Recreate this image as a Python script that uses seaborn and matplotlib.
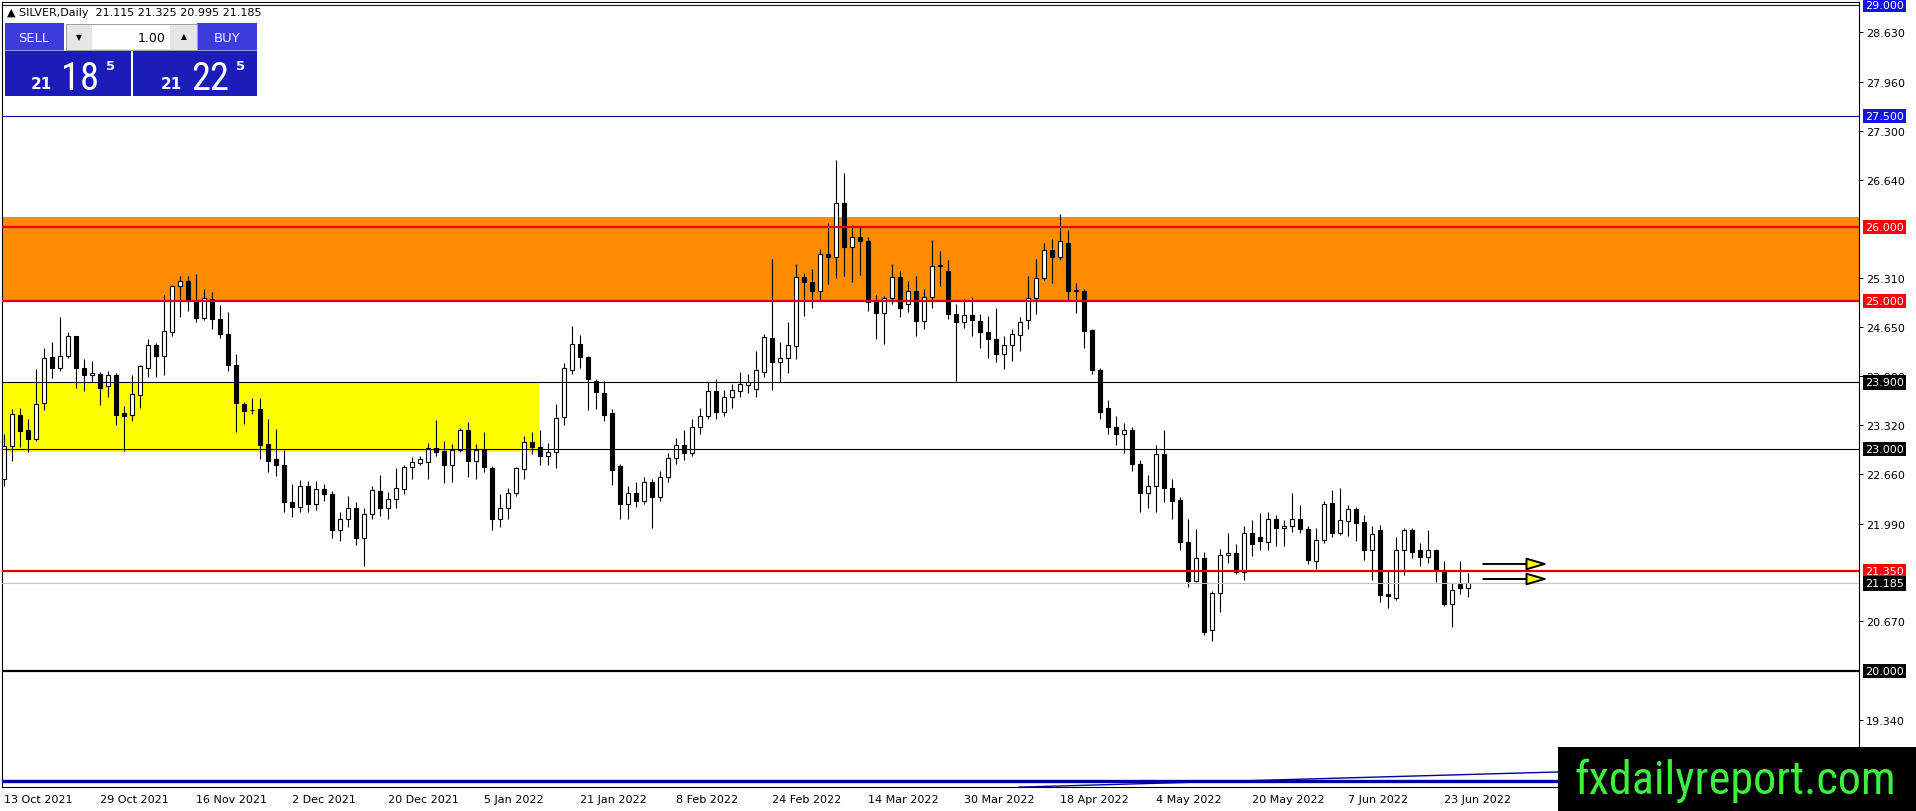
import numpy as np
import pandas as pd
import matplotlib
matplotlib.use('Agg')
import matplotlib.pyplot as plt
from matplotlib.patches import Rectangle
from matplotlib import font_manager
import seaborn as sns

# Daily SILVER candles, 13 Oct 2021 .. 28 Jun 2022
opens = [22.60, 23.04, 23.46, 23.26, 23.14, 23.62, 24.24, 24.10, 24.25, 24.52,
         24.10, 24.00, 24.01, 23.85, 24.00, 23.49, 23.46, 23.73, 24.09, 24.41,
         24.25, 24.58, 25.20, 25.27, 25.00, 24.77, 25.03, 24.75, 24.55, 24.14,
         23.61, 23.53, 23.54, 23.07, 22.86, 22.78, 22.28, 22.22, 22.50, 22.25,
         22.46, 22.39, 21.90, 22.05, 22.20, 21.80, 22.12, 22.43, 22.20, 22.32,
         22.46, 22.75, 22.81, 22.82, 23.01, 22.97, 22.78, 22.98, 23.25, 22.84,
         23.00, 22.74, 22.05, 22.20, 22.41, 22.73, 23.09, 23.03, 22.91, 22.955,
         23.43, 24.07, 24.42, 24.24, 23.92, 23.76, 23.49, 22.77, 22.25, 22.40,
         22.30, 22.55, 22.35, 22.62, 22.88, 23.05, 22.95, 23.30, 23.45, 23.78,
         23.50, 23.70, 23.78, 23.86, 23.81, 24.04, 24.50, 24.17, 24.23, 24.39,
         25.32, 25.25, 25.13, 25.64, 25.60, 26.33, 25.73, 25.86, 25.81, 24.98,
         24.84, 25.04, 25.32, 24.96, 25.14, 24.73, 25.05, 25.47, 25.40, 24.82,
         24.71, 24.81, 24.73, 24.58, 24.49, 24.28, 24.40, 24.54, 24.74, 25.04,
         25.31, 25.69, 25.60, 25.79, 25.14, 25.14, 24.61, 24.07, 23.55, 23.30,
         23.20, 23.25, 22.80, 22.40, 22.50, 22.93, 22.47, 22.31, 21.74, 21.21,
         21.52, 20.55, 21.05, 21.57, 21.59, 21.34, 21.87, 21.81, 21.74, 22.06,
         21.93, 21.955, 22.06, 21.92, 21.49, 21.775, 22.27, 21.87, 22.02, 22.19,
         22.01, 21.64, 21.905, 21.04, 20.98, 21.63, 21.905, 21.635, 21.536, 21.635,
         21.37, 20.905, 21.176, 21.115]
highs = [23.20, 23.54, 23.56, 23.41, 24.08, 24.37, 24.44, 24.78, 24.58, 24.53,
         24.22, 24.19, 24.04, 24.05, 24.03, 23.58, 24.00, 24.14, 24.48, 24.43,
         25.08, 25.22, 25.34, 25.34, 25.37, 25.16, 25.12, 24.94, 24.85, 24.28,
         23.64, 23.69, 23.69, 23.41, 23.27, 22.99, 22.52, 22.58, 22.57, 22.57,
         22.53, 22.43, 22.15, 22.37, 22.28, 22.20, 22.50, 22.65, 22.42, 22.74,
         22.79, 22.89, 22.90, 23.08, 23.39, 23.11, 23.07, 23.29, 23.36, 23.07,
         23.23, 22.77, 22.39, 22.47, 22.75, 23.17, 23.23, 23.26, 23.08, 23.61,
         24.16, 24.66, 24.54, 24.26, 23.94, 23.92, 23.54, 22.80, 22.50, 22.55,
         22.62, 22.60, 22.70, 22.95, 23.15, 23.25, 23.40, 23.55, 23.90, 23.95,
         23.80, 23.88, 24.04, 24.01, 24.33, 24.55, 25.57, 24.45, 24.72, 25.50,
         25.38, 25.43, 25.70, 26.05, 26.90, 26.73, 26.02, 26.00, 25.87, 25.08,
         25.07, 25.50, 25.40, 25.27, 25.34, 25.16, 25.82, 25.68, 25.55, 24.96,
         25.02, 25.05, 24.82, 24.80, 24.90, 24.52, 24.62, 24.78, 25.34, 25.57,
         25.79, 25.84, 26.18, 25.96, 25.24, 25.16, 24.62, 24.10, 23.66, 23.45,
         23.35, 23.30, 22.85, 22.65, 23.05, 23.25, 22.60, 22.35, 22.06, 21.92,
         21.61, 21.08, 21.65, 21.87, 21.72, 21.96, 22.04, 22.14, 22.15, 22.11,
         22.04, 22.405, 22.24, 21.96, 21.93, 22.30, 22.45, 22.47, 22.24, 22.21,
         22.11, 21.96, 21.97, 21.36, 21.81, 21.93, 21.93, 21.725, 21.905, 21.65,
         21.48, 21.19, 21.49, 21.325]
lows = [22.50, 22.84, 23.02, 22.96, 23.11, 23.52, 23.96, 24.06, 24.23, 23.83,
        23.79, 23.90, 23.60, 23.70, 23.33, 22.97, 23.38, 23.56, 23.97, 23.97,
        24.00, 24.53, 24.78, 24.86, 24.71, 24.74, 24.62, 24.50, 24.06, 23.23,
        23.34, 23.47, 22.87, 22.69, 22.64, 22.15, 22.08, 22.15, 22.15, 22.18,
        22.30, 21.80, 21.75, 21.95, 21.70, 21.42, 22.05, 22.10, 22.05, 22.20,
        22.39, 22.60, 22.78, 22.60, 22.91, 22.54, 22.55, 22.96, 22.62, 22.59,
        22.69, 21.90, 21.95, 22.05, 22.37, 22.60, 22.93, 22.78, 22.78, 22.74,
        23.33, 24.01, 24.10, 23.52, 23.54, 23.38, 22.51, 22.05, 22.05, 22.22,
        22.25, 21.93, 22.30, 22.55, 22.80, 22.85, 22.90, 23.20, 23.40, 23.40,
        23.45, 23.55, 23.70, 23.75, 23.70, 23.97, 23.80, 23.90, 24.03, 24.22,
        24.80, 24.91, 25.00, 25.23, 25.31, 25.34, 25.26, 25.35, 24.87, 24.48,
        24.42, 24.96, 24.78, 24.85, 24.53, 24.62, 24.91, 25.20, 24.76, 23.92,
        24.64, 24.52, 24.37, 24.23, 24.17, 24.08, 24.19, 24.32, 24.62, 24.82,
        25.28, 25.24, 25.55, 25.00, 24.84, 24.37, 24.01, 23.40, 23.20, 23.05,
        22.95, 22.70, 22.15, 22.20, 22.15, 22.28, 22.05, 21.64, 21.14, 21.20,
        20.48, 20.40, 20.80, 21.46, 21.31, 21.23, 21.56, 21.63, 21.63, 21.69,
        21.69, 21.88, 21.87, 21.45, 21.38, 21.73, 21.81, 21.84, 21.82, 21.75,
        21.50, 21.23, 20.93, 20.85, 20.96, 21.30, 21.52, 21.42, 21.46, 21.20,
        20.88, 20.60, 21.04, 20.995]
closes = [23.04, 23.47, 23.24, 23.14, 23.61, 24.23, 24.10, 24.25, 24.52, 24.10,
          24.00, 24.02, 23.83, 24.00, 23.46, 23.45, 23.74, 24.12, 24.40, 24.25,
          24.59, 25.20, 25.27, 25.01, 24.77, 25.04, 24.75, 24.55, 24.13, 23.62,
          23.51, 23.52, 23.06, 22.84, 22.78, 22.28, 22.22, 22.50, 22.25, 22.46,
          22.39, 21.90, 22.05, 22.20, 21.80, 22.12, 22.45, 22.20, 22.32, 22.47,
          22.75, 22.82, 22.87, 23.01, 22.96, 22.79, 22.98, 23.26, 22.84, 22.99,
          22.75, 22.05, 22.20, 22.41, 22.74, 23.10, 23.03, 22.91, 22.955, 23.415,
          24.09, 24.42, 24.24, 23.94, 23.77, 23.46, 22.72, 22.25, 22.40, 22.30,
          22.55, 22.35, 22.62, 22.88, 23.05, 22.95, 23.30, 23.45, 23.78, 23.50,
          23.70, 23.80, 23.88, 23.90, 24.07, 24.51, 24.18, 24.23, 24.40, 25.32,
          25.25, 25.13, 25.64, 25.60, 26.33, 25.73, 25.86, 25.81, 24.98, 24.84,
          25.04, 25.32, 24.91, 25.14, 24.73, 25.05, 25.47, 25.48, 24.82, 24.71,
          24.81, 24.74, 24.58, 24.48, 24.28, 24.40, 24.55, 24.71, 25.04, 25.31,
          25.69, 25.60, 25.81, 25.13, 25.145, 24.60, 24.07, 23.50, 23.30, 23.20,
          23.25, 22.80, 22.40, 22.50, 22.93, 22.47, 22.30, 21.74, 21.21, 21.52,
          20.52, 21.06, 21.57, 21.59, 21.34, 21.87, 21.71, 21.75, 22.06, 21.93,
          21.96, 22.06, 21.92, 21.50, 21.775, 22.26, 21.87, 22.04, 22.19, 22.00,
          21.64, 21.85, 21.02, 21.01, 21.63, 21.905, 21.61, 21.536, 21.64, 21.37,
          20.905, 21.095, 21.117, 21.185]

date_labels = ['13 Oct 2021', '29 Oct 2021', '16 Nov 2021', '2 Dec 2021',
               '20 Dec 2021', '5 Jan 2022', '21 Jan 2022', '8 Feb 2022',
               '24 Feb 2022', '14 Mar 2022', '30 Mar 2022', '18 Apr 2022',
               '4 May 2022', '20 May 2022', '7 Jun 2022', '23 Jun 2022']
price_ticks = [28.630, 27.960, 27.300, 26.640, 25.310, 24.650, 23.990,
               23.320, 22.660, 21.990, 20.670, 19.340]

level_values = [29.0, 27.5, 26.0, 25.0, 23.9, 23.0, 21.35, 21.185, 20.0]
level_kinds = ['blue', 'blue', 'red', 'red', 'black', 'black', 'red', 'bid', 'thick']

orange_zone = [24.98, 26.135]
yellow_zone = [22.96, 23.90]
yellow_zone_end = 66.9

arrow_prices = [21.446, 21.243]
arrow_span = [184.9, 193.0]
trend_x = [126.8, 232.0]
trend_y = [18.43, 18.75]
base_line = 18.514

header_text = '\u25b2 SILVER,Daily  21.115 21.325 20.995 21.185'
sell_price = ['21', '18', '5']
buy_price = ['21', '22', '5']
lot_size = '1.00'
watermark = 'fxdailyreport.com'

sns.set_style('white')
plt.rcParams['font.family'] = ['DejaVu Sans']

# pick a narrow face for the big quote digits / watermark if one is installed
installed = {(f.name, f.stretch) for f in font_manager.fontManager.ttflist}
names = {n for n, _ in installed}
narrow_kw = {'family': 'Liberation Sans'}
for cand in ['Liberation Sans Narrow', 'Roboto Condensed', 'Open Sans Condensed']:
    if cand in names:
        narrow_kw = {'family': cand}
        break
else:
    if any(n == 'DejaVu Sans' and str(s) in ('condensed', '87.5', '75')
           for n, s in installed):
        narrow_kw = {'family': 'DejaVu Sans', 'fontstretch': 'condensed'}

W, H = 1916, 812
fig = plt.figure(figsize=(W / 100, H / 100), dpi=100)
fig.patch.set_facecolor('white')
ax = fig.add_axes([2 / W, 24 / H, 1857 / W, 785 / H])
ax.set_facecolor('white')

# background zones
ax.axhspan(orange_zone[0], orange_zone[1], color='#ff8c00', lw=0, zorder=1)
ax.fill_between([-1, yellow_zone_end], yellow_zone[0], yellow_zone[1],
                color='#ffff00', lw=0, zorder=1)

# candles
df = pd.DataFrame({'open': opens, 'high': highs, 'low': lows, 'close': closes})
df['bar'] = np.arange(len(df))
up = df['close'] >= df['open']
ax.vlines(df['bar'], df['low'], df['high'], color='black', lw=0.8, zorder=3)
body = (df['close'] - df['open']).abs().clip(lower=0.012)
bottom = df[['open', 'close']].min(axis=1)
ax.bar(df['bar'], body, bottom=bottom, width=0.62,
       color=np.where(up, 'white', 'black'), edgecolor='black',
       linewidth=0.8, zorder=4)

# horizontal levels
line_style = {'blue': ('#0000b4', 0.8), 'red': ('#e00000', 1.6),
              'black': ('black', 0.8), 'bid': ('#c0c0c0', 0.8),
              'thick': ('black', 1.6)}
box_color = {'blue': '#1414e6', 'red': '#ff0000', 'black': 'black',
             'bid': 'black', 'thick': 'black'}
for val, kind in zip(level_values, level_kinds):
    c, lw = line_style[kind]
    ax.axhline(val, color=c, lw=lw, zorder=5)
    ax.annotate(f'{val:.3f}', xy=(1, val), xycoords=('axes fraction', 'data'),
                xytext=(6, 0), textcoords='offset pixels', ha='left', va='center',
                color='white', fontsize=8, annotation_clip=False, zorder=10,
                bbox=dict(boxstyle='square,pad=0.22', fc=box_color[kind], ec='none'))

# bottom lines
ax.axhline(base_line, color='#0000a0', lw=2.4, zorder=5)
sns.lineplot(x=trend_x, y=trend_y, ax=ax, color='#0000a0', lw=1.0, zorder=5)

# arrows
for p in arrow_prices:
    ax.annotate('', xy=(arrow_span[1], p), xytext=(arrow_span[0], p),
                arrowprops=dict(arrowstyle='-|>,head_length=1.3,head_width=0.38',
                                facecolor='#ffff00', edgecolor='black', lw=1.4,
                                shrinkA=0, shrinkB=0, mutation_scale=10),
                zorder=6)

ax.set_xlim(-0.25, 231.875)
ax.set_ylim(18.432, 29.04)

ax.yaxis.tick_right()
ax.set_yticks(price_ticks)
ax.set_yticklabels([f'{v:.3f}' for v in price_ticks])
ax.set_xticks(range(0, len(closes), 12))
ax.set_xticklabels(date_labels)
plt.setp(ax.get_xticklabels(), ha='left')
ax.tick_params(axis='both', labelsize=8, colors='black', length=3, width=0.7,
               direction='out')
ax.tick_params(axis='y', pad=2)
ax.tick_params(axis='x', pad=2)
ax.set_xlabel('')
ax.set_ylabel('')
for s in ax.spines.values():
    s.set_color('black')
    s.set_linewidth(0.8)
    s.set_visible(True)


# ---- terminal decorations in pixel coordinates ----
def px_rect(x0, y0, x1, y1, fc, ec='none', lw=0, z=20):
    fig.add_artist(Rectangle((x0 / W, 1 - y1 / H), (x1 - x0) / W, (y1 - y0) / H,
                             transform=fig.transFigure, fc=fc, ec=ec, lw=lw, zorder=z))


def px_text(x, y, s, z=21, **kw):
    return fig.text(x / W, 1 - y / H, s, zorder=z, **kw)


renderer = fig.canvas.get_renderer()


def fit_width(t, target):
    w = t.get_window_extent(renderer=renderer).width
    t.set_fontsize(t.get_fontsize() * target / w)


hdr = px_text(7, 13, header_text, fontsize=8, color='black', va='center', ha='left')
fit_width(hdr, 256)

# sell / buy buttons
px_rect(5, 24, 64, 52, '#3c3cdc')
px_rect(197, 24, 257, 52, '#3c3cdc')
px_rect(5, 51, 64, 52, '#9090f0')
px_rect(197, 51, 257, 52, '#9090f0')
px_text(34, 38, 'SELL', fontsize=9.5, color='#eeeeff', ha='center', va='center')
px_text(227, 38, 'BUY', fontsize=9.5, color='#eeeeff', ha='center', va='center')
# lot spin box
px_rect(66, 25, 197, 51, '#e6e6e6', ec='#a0a0a0', lw=0.7)
px_rect(92, 26, 170, 50, 'white')
px_text(79, 38, '\u25bc', fontsize=5.5, color='black', ha='center', va='center')
px_text(184, 37, '\u25b2', fontsize=5.5, color='black', ha='center', va='center')
px_text(166, 38, lot_size, fontsize=9, color='black', ha='right', va='center')
# price boxes
px_rect(5, 52, 131, 97, '#1c1cb8')
px_rect(133, 52, 257, 97, '#1c1cb8')
for x0, parts in [(52, sell_price), (182, buy_price)]:
    px_text(x0, 89, parts[0], fontsize=11, fontweight='bold', color='white',
            ha='right', va='baseline')
    big = px_text(x0 + 9, 90, parts[1], color='white', ha='left', va='baseline',
                  fontsize=30, **narrow_kw)
    fit_width(big, 38)
    px_text(x0 + 54, 60, parts[2], fontsize=9.5, fontweight='bold', color='white',
            ha='left', va='top')

# watermark
px_rect(1558, 748, 1916, 812, 'black', z=22)
wm = px_text(1735, 794, watermark, z=23, fontsize=30, color='#3ef03e',
             ha='center', va='baseline', **narrow_kw)
fit_width(wm, 322)

fig.savefig('out.png', dpi=100, facecolor='white')
